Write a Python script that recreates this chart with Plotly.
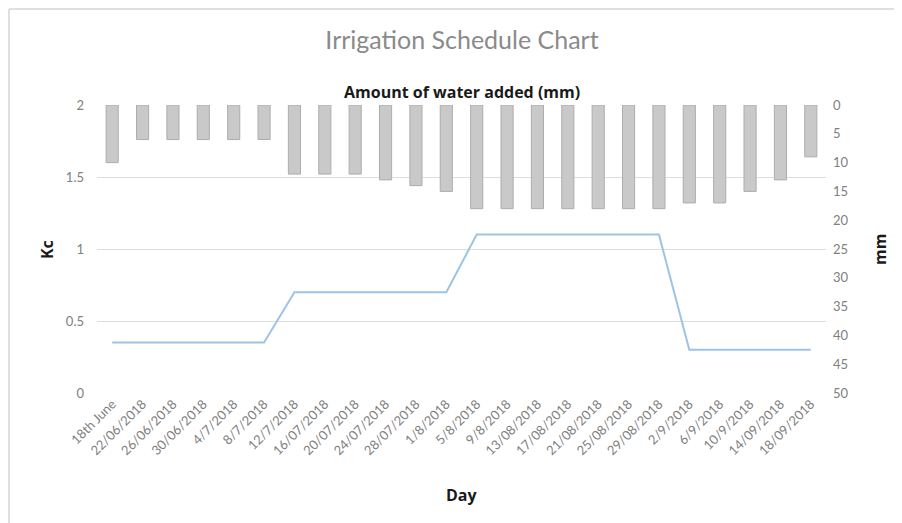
import plotly.graph_objects as go

# Data
days = [
    "18th June", "22/06/2018", "26/06/2018", "30/06/2018", "4/7/2018", "8/7/2018",
    "12/7/2018", "16/07/2018", "20/07/2018", "24/07/2018", "28/07/2018", "1/8/2018",
    "5/8/2018", "9/8/2018", "13/08/2018", "17/08/2018", "21/08/2018", "25/08/2018",
    "29/08/2018", "2/9/2018", "6/9/2018", "10/9/2018", "14/09/2018", "18/09/2018",
]
kc = [
    0.35, 0.35, 0.35, 0.35, 0.35, 0.35,
    0.7, 0.7, 0.7, 0.7, 0.7, 0.7,
    1.1, 1.1, 1.1, 1.1, 1.1, 1.1, 1.1,
    0.3, 0.3, 0.3, 0.3, 0.3,
]
water_mm = [
    10, 6, 6, 6, 6, 6,
    12, 12, 12, 13, 14, 15,
    18, 18, 18, 18, 18, 18, 18,
    17, 17, 15, 13, 9,
]
kc_ticks = [0, 0.5, 1, 1.5, 2]
mm_ticks = list(range(0, 55, 5))

font_family = "Lato, 'Open Sans', sans-serif"
bold_family = "'Open Sans', Lato, sans-serif"
tick_color = "#808080"

# the page body adds an 8px margin, so shift everything up/left by that
OFF = 8
W, H = 902 - OFF, 523 - OFF
# plot area in screen pixels (left, right, top, bottom)
PL, PR, PT, PB = 97, 826, 105, 393


def px(x):
    return (x - PL) / (PR - PL)


def py(y):
    return (PB - y) / (PB - PT)


fig = go.Figure()

fig.add_trace(
    go.Bar(
        x=days,
        y=water_mm,
        yaxis="y2",
        name="Amount of water added (mm)",
        marker=dict(color="#c9c9c9", line=dict(color="#adadad", width=1)),
        width=0.4,
        showlegend=False,
    )
)
fig.add_trace(
    go.Scatter(
        x=days,
        y=kc,
        mode="lines",
        name="Kc",
        line=dict(color="#9dc3e6", width=2),
        showlegend=False,
    )
)

fig.update_layout(
    width=W,
    height=H,
    margin=dict(l=PL - OFF, r=902 - PR, t=PT - OFF, b=523 - PB),
    paper_bgcolor="white",
    plot_bgcolor="white",
    font=dict(family=font_family, size=12, color=tick_color),
    title=dict(
        text="Irrigation Schedule Chart",
        x=(462 - OFF) / W,
        xanchor="center",
        y=1 - (40 - OFF) / H,
        yanchor="middle",
        font=dict(size=25, color="#8a8a8a", family=font_family),
    ),
    xaxis=dict(
        type="category",
        tickangle=-45,
        showgrid=False,
        showline=False,
        ticks="",
        automargin=False,
        tickfont=dict(size=13, color=tick_color),
    ),
    yaxis=dict(
        range=[0, 2],
        tickvals=kc_ticks,
        ticktext=[str(v) for v in kc_ticks],
        showgrid=True,
        gridcolor="#dedede",
        gridwidth=1,
        zeroline=False,
        showline=False,
        ticks="",
        automargin=False,
        ticklabelstandoff=12,
        tickfont=dict(size=13, color=tick_color),
    ),
    yaxis2=dict(
        overlaying="y",
        side="right",
        range=[50, 0],
        tickvals=mm_ticks,
        showgrid=False,
        zeroline=False,
        showline=False,
        ticks="",
        automargin=False,
        ticklabelstandoff=6,
        tickfont=dict(size=13, color=tick_color),
    ),
    bargap=0.6,
)

# Axis titles placed like the original
label_font = dict(size=16, color="#1a1a1a", family=bold_family)
for text, x, y, angle in [
    ("<b>Amount of water added (mm)</b>", 462, 92, 0),
    ("<b>Kc</b>", 47, 250, -90),
    ("<b>mm</b>", 880, 250, -90),
    ("<b>Day</b>", 462, 495, 0),
]:
    fig.add_annotation(
        text=text,
        xref="paper", yref="paper",
        x=px(x), y=py(y),
        xanchor="center", yanchor="middle",
        textangle=angle,
        showarrow=False,
        font=label_font,
    )

# light chart frame (only top and left edges are visible in the crop)
frame = dict(color="#d6d6d6", width=1.5)
fig.add_shape(type="line", xref="paper", yref="paper",
              x0=px(9), x1=px(902), y0=py(9), y1=py(9), line=frame, layer="below")
fig.add_shape(type="line", xref="paper", yref="paper",
              x0=px(9), x1=px(9), y0=py(9), y1=py(523), line=frame, layer="below")

fig.write_html("out.html")
